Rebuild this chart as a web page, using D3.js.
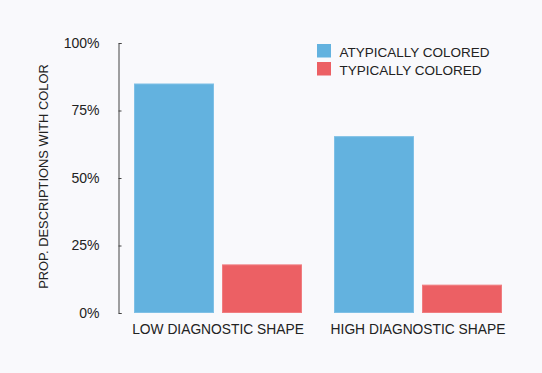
<!DOCTYPE html>
<html>
<head>
<meta charset="utf-8">
<script src="https://cdn.jsdelivr.net/npm/d3@7"></script>
<style>
  html, body { margin: 0; padding: 0; background: #f9f9fc; }
  svg { display: block; }
  text { font-family: "Liberation Sans", Arial, Helvetica, sans-serif; fill: #222; }
</style>
</head>
<body>
<svg id="chart" width="542" height="373"></svg>
<script>
const groups = ["LOW DIAGNOSTIC SHAPE", "HIGH DIAGNOSTIC SHAPE"];
const seriesNames = ["ATYPICALLY COLORED", "TYPICALLY COLORED"];
const atypical = [0.85, 0.655];
const typical = [0.18, 0.105];
const yTicks = [0, 0.25, 0.5, 0.75, 1];
const colors = ["#63b2df", "#ec6064"];
const strokes = ["#7fc0e6", "#f07d80"];

const svg = d3.select("#chart");
const mLeft = 118, mRight = 518, mTop = 43, mBottom = 313;

const x0 = d3.scaleBand().domain(groups).range([mLeft, mRight]).paddingInner(0.16).paddingOuter(0.08);
const x1 = d3.scaleBand().domain(seriesNames).range([0, x0.bandwidth()]).paddingInner(1/11).paddingOuter(0);
const y = d3.scaleLinear().domain([0, 1]).range([mBottom, mTop]);

const data = groups.map((g, i) => ({ group: g, values: [atypical[i], typical[i]] }));

const gGroups = svg.append("g").selectAll("g").data(data).join("g")
  .attr("transform", d => `translate(${x0(d.group)},0)`);

gGroups.selectAll("rect").data(d => d.values.map((v, j) => ({ name: seriesNames[j], v, j })))
  .join("rect")
  .attr("x", d => x1(d.name) + 0.5)
  .attr("width", x1.bandwidth() - 1)
  .attr("y", d => y(d.v) + 0.5)
  .attr("height", d => y(0) - y(d.v) - 1)
  .attr("fill", d => colors[d.j])
  .attr("stroke", d => strokes[d.j])
  .attr("stroke-width", 1);

// Y axis
const yAxis = d3.axisLeft(y).tickValues(yTicks).tickFormat(d3.format(".0%"))
  .tickSizeInner(-3).tickSizeOuter(-3).tickPadding(19);
const ga = svg.append("g").attr("transform", `translate(${mLeft + 0.5},0)`).call(yAxis);
ga.selectAll("path, line").attr("stroke", "#444");
ga.selectAll("text").attr("font-size", "14px").attr("fill", "#222")
  .style("font-family", '"Liberation Sans", Arial, sans-serif');

// Y title
svg.append("text")
  .attr("transform", `translate(48,${(63 + 290) / 2}) rotate(-90)`)
  .attr("text-anchor", "middle")
  .attr("font-size", "12.9px")
  .text("PROP. DESCRIPTIONS WITH COLOR");

// X labels
svg.append("g").selectAll("text").data(groups).join("text")
  .attr("x", d => x0(d) + x0.bandwidth() / 2)
  .attr("y", 334)
  .attr("text-anchor", "middle")
  .attr("font-size", "13.8px")
  .text(d => d);

// Legend
const lg = svg.append("g").selectAll("g").data(seriesNames).join("g")
  .attr("transform", (d, i) => `translate(317,${44 + i * 18})`);
lg.append("rect").attr("width", 14).attr("height", 13.5)
  .attr("fill", (d, i) => colors[i]);
lg.append("text").attr("x", 22.5).attr("y", 12.5)
  .attr("font-size", "13.5px").text(d => d);
</script>
</body>
</html>
